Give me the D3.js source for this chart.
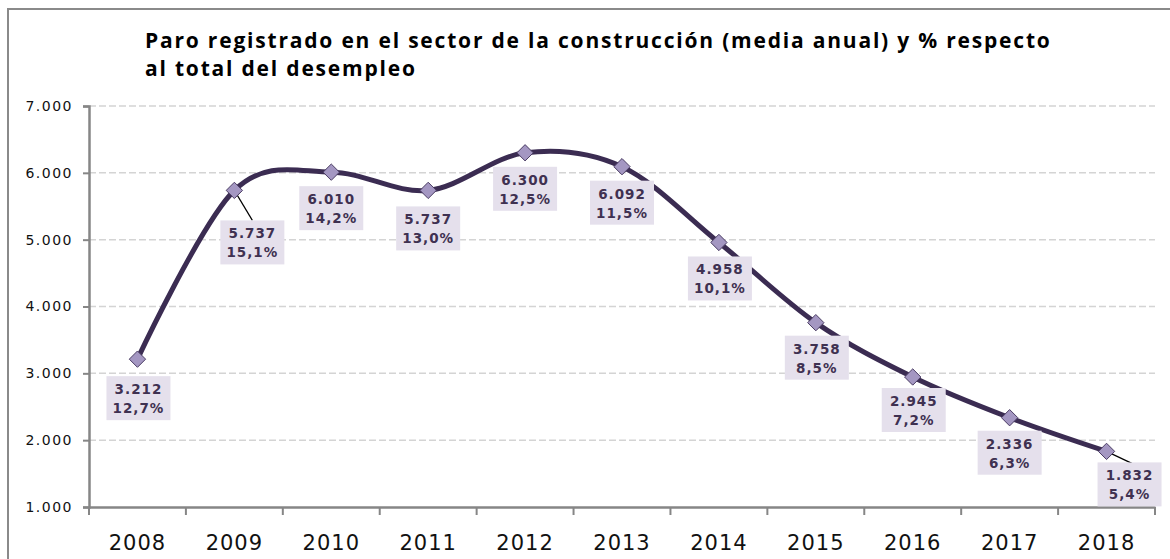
<!DOCTYPE html>
<html>
<head>
<meta charset="utf-8">
<script src="https://cdn.jsdelivr.net/npm/d3@7"></script>
<style>
  body { margin: 0; background: #fff; }
  svg { display: block; }
  .chart text { font-family: "DejaVu Sans", Verdana, sans-serif; }
  .chart text.title { font-family: "Open Sans", sans-serif; }
</style>
</head>
<body>
<div class="chart"></div>
<script>
// chart values
const years = ['2008','2009','2010','2011','2012','2013','2014','2015','2016','2017','2018'];
const paro = [3212, 5737, 6010, 5737, 6300, 6092, 4958, 3758, 2945, 2336, 1832];
const pct = ['12,7%','15,1%','14,2%','13,0%','12,5%','11,5%','10,1%','8,5%','7,2%','6,3%','5,4%'];
const yTicks = [1000, 2000, 3000, 4000, 5000, 6000, 7000];
const titleLines = ['Paro registrado en el sector de la construcción (media anual) y % respecto',
  'al total del desempleo'];

const width = 1170, height = 559;
const margin = {left: 89, right: 15, top: 106, bottom: 52};

const svg = d3.select('.chart')
  .append('svg')
  .attr('width', width)
  .attr('height', height);

// frame
svg.append('path')
  .attr('d', `M8,${height} L8,9 L${width},9`)
  .attr('fill', 'none')
  .attr('stroke', '#8a8a8a')
  .attr('stroke-width', 2);

svg.selectAll('text.title')
  .data(titleLines)
  .enter()
  .append('text')
  .attr('class', 'title')
  .attr('x', 145)
  .attr('y', (d,i)=>48 + i*28)
  .attr('font-weight', 'bold')
  .attr('font-size', 21)
  .attr('letter-spacing', 1.8)
  .attr('fill', '#000')
  .text(d=>d);

const x = d3.scaleBand()
  .domain(years)
  .range([margin.left, width - margin.right]);

const y = d3.scaleLinear()
  .domain([1000, 7000])
  .range([height - margin.bottom, margin.top]);

// gridlines
svg.selectAll('line.grid')
  .data(yTicks.slice(1))
  .enter()
  .append('line')
  .attr('class', 'grid')
  .attr('x1', margin.left)
  .attr('x2', width - margin.right)
  .attr('y1', d=>y(d))
  .attr('y2', d=>y(d))
  .attr('stroke', '#d4d4d4')
  .attr('stroke-width', 1.5)
  .attr('stroke-dasharray', '7,3');

// y axis
const yAxis = svg.append('g')
  .attr('transform', `translate(${margin.left},0)`)
  .call(d3.axisLeft(y).tickValues(yTicks).tickSize(6).tickPadding(10)
    .tickFormat(d=>d3.format(',')(d).replace(/,/g, '.')));
yAxis.attr('font-family', null);
yAxis.select('.domain').attr('stroke', '#868686').attr('stroke-width', 2.5);
yAxis.selectAll('.tick line').attr('stroke', '#868686').attr('stroke-width', 2);
yAxis.selectAll('text')
  .attr('font-size', 14)
  .attr('letter-spacing', 1.5)
  .attr('fill', '#111');

// x axis, ticks between categories
const xAxis = svg.append('g')
  .attr('transform', `translate(0,${y(1000)})`)
  .call(d3.axisBottom(x).tickSize(0).tickPadding(28));
xAxis.attr('font-family', null);
xAxis.select('.domain').attr('stroke', '#868686').attr('stroke-width', 2.5);
xAxis.selectAll('text')
  .attr('font-size', 21)
  .attr('letter-spacing', 1)
  .attr('fill', '#111');
xAxis.selectAll('line.sep')
  .data(years.concat(['end']))
  .enter()
  .append('line')
  .attr('class', 'sep')
  .attr('x1', (d,i)=>margin.left + i*x.step())
  .attr('x2', (d,i)=>margin.left + i*x.step())
  .attr('y1', 0)
  .attr('y2', 8)
  .attr('stroke', '#868686')
  .attr('stroke-width', 2);

const pts = years.map((d,i)=>({year: d, v: paro[i], p: pct[i]}));
const cx = d=>x(d.year) + x.bandwidth()/2;

// smoothed line
const line = d3.line()
  .x(cx)
  .y(d=>y(d.v))
  .curve(d3.curveCardinal.tension(0));

svg.append('path')
  .datum(pts)
  .attr('d', line)
  .attr('fill', 'none')
  .attr('stroke', '#3b2c52')
  .attr('stroke-width', 5)
  .attr('stroke-linejoin', 'round');

// label placement: offset of the box centre from the point
const labelOffset = {
  '2008': [1, 39], '2009': [18, 52], '2010': [0, 36], '2011': [0, 38],
  '2012': [0, 36], '2013': [0, 36], '2014': [1, 36], '2015': [1, 35],
  '2016': [1, 33], '2017': [0, 35], '2018': [23, 33]
};

// leader lines
svg.selectAll('line.leader')
  .data(pts.filter(d=>d.year === '2009' || d.year === '2018'))
  .enter()
  .append('line')
  .attr('class', 'leader')
  .attr('x1', cx)
  .attr('y1', d=>y(d.v))
  .attr('x2', d=>cx(d) + labelOffset[d.year][0] * (d.year === '2018' ? 1.1 : 1))
  .attr('y2', d=>y(d.v) + labelOffset[d.year][1] - (d.year === '2018' ? 21 : 22))
  .attr('stroke', '#000')
  .attr('stroke-width', 1.2);

// markers
svg.selectAll('path.marker')
  .data(pts)
  .enter()
  .append('path')
  .attr('class', 'marker')
  .attr('d', d3.symbol().type(d3.symbolDiamond2).size(170))
  .attr('transform', d=>`translate(${cx(d)},${y(d.v)})`)
  .attr('fill', '#a497c2')
  .attr('stroke', '#4a3c63')
  .attr('stroke-width', 1);

// data labels
const lab = svg.selectAll('g.lab')
  .data(pts)
  .enter()
  .append('g')
  .attr('class', 'lab')
  .attr('transform', d=>`translate(${cx(d) + labelOffset[d.year][0]},${y(d.v) + labelOffset[d.year][1]})`);

lab.append('rect')
  .attr('x', -32)
  .attr('y', -22)
  .attr('width', 64)
  .attr('height', 44)
  .attr('fill', '#e5e0ec');

lab.append('text')
  .attr('text-anchor', 'middle')
  .attr('y', -4)
  .attr('font-weight', 'bold')
  .attr('font-size', 13.5)
  .attr('letter-spacing', 1)
  .attr('fill', '#3f3151')
  .text(d=>d3.format(',')(d.v).replace(/,/g, '.'));

lab.append('text')
  .attr('text-anchor', 'middle')
  .attr('y', 15)
  .attr('font-weight', 'bold')
  .attr('font-size', 13.5)
  .attr('letter-spacing', 1)
  .attr('fill', '#3f3151')
  .text(d=>d.p);
</script>
</body>
</html>
